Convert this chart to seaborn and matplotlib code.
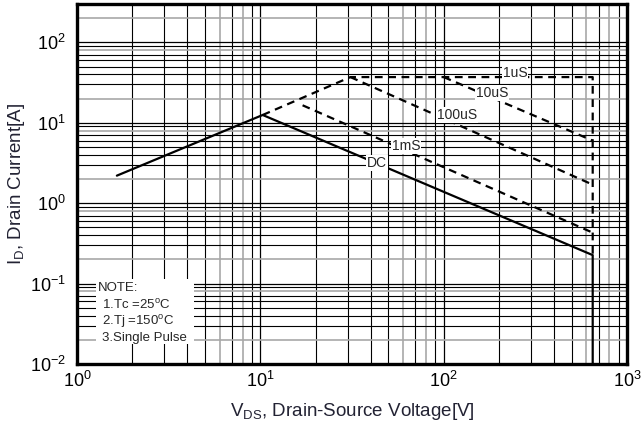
import numpy as np
import pandas as pd
import matplotlib
matplotlib.use('Agg')
import matplotlib.pyplot as plt
import seaborn as sns
from matplotlib.patches import Rectangle
from matplotlib.ticker import LogLocator, NullFormatter

# safe operating area curves
dc_v = [1.65, 10.3, 650, 650]
dc_i = [2.2, 12.5, 0.226, 0.01]

us1_v = [10.3, 31, 650, 650]
us1_i = [12.5, 37, 37, 0.226]

us10_v = [100, 650]
us10_i = [37, 6.0]

us100_v = [31, 650]
us100_i = [37, 1.7]

ms1_v = [17, 650]
ms1_i = [16.5, 0.43]

curve_labels = ['1uS', '10uS', '100uS', '1mS', 'DC']
note_lines = ['NOTE:', '1.Tc =25$^\\mathdefault{o}$C',
              '2.Tj =150$^\\mathdefault{o}$C', '3.Single Pulse']

sns.set_style('white')
plt.rcParams['font.family'] = ['Liberation Sans', 'DejaVu Sans']
plt.rcParams['mathtext.fontset'] = 'custom'
plt.rcParams['mathtext.rm'] = 'Liberation Sans'


def make_df(v, i, name):
    return pd.DataFrame({'vds': v, 'id': i, 'curve': name})


fig = plt.figure(figsize=(6.42, 4.38), dpi=100)
ax = fig.add_axes([77 / 642, 74 / 438, 550 / 642, 360 / 438])
ax.set_xscale('log')
ax.set_yscale('log')
ax.set_xlim(1, 1000)
ax.set_ylim(0.01, 300)

# grid, drawn by hand so some minor lines can be grey like the scan
for dec in [1, 10, 100]:
    ax.axvline(dec, color='black', lw=0.9, zorder=0.5)
    for m in range(2, 10):
        col = '#a8a8a8' if m in (6, 8) else 'black'
        ax.axvline(m * dec, color=col, lw=1.2 if col != 'black' else 0.8, zorder=0.5)
for dec in [0.01, 0.1, 1, 10, 100]:
    ax.axhline(dec, color='black', lw=0.9, zorder=0.5)
    for m in range(2, 10):
        if m * dec > 300:
            break
        col = '#a8a8a8' if m in (2, 8) else 'black'
        ax.axhline(m * dec, color=col, lw=1.2 if col != 'black' else 0.8, zorder=0.5)

# curves
dash = (0, (3.5, 2.5))
sns.lineplot(data=make_df(dc_v, dc_i, 'DC'), x='vds', y='id', ax=ax, sort=False,
             estimator=None, color='black', lw=1.6, zorder=3)
for v, i, name in [(us1_v, us1_i, '1uS'), (us10_v, us10_i, '10uS'),
                   (us100_v, us100_i, '100uS'), (ms1_v, ms1_i, '1mS')]:
    sns.lineplot(data=make_df(v, i, name), x='vds', y='id', ax=ax, sort=False,
                 estimator=None, color='black', lw=1.6, linestyle=dash, zorder=3)

# curve labels (axes fraction, from pixel positions)
label_pos = [(0.797, 0.808), (0.755, 0.753), (0.691, 0.692), (0.598, 0.606), (0.545, 0.558)]
for txt, (fx, fy) in zip(curve_labels, label_pos):
    ax.text(fx, fy, txt, transform=ax.transAxes, ha='center', va='center',
            fontsize=10, zorder=4,
            bbox=dict(facecolor='white', edgecolor='none', pad=0.6))

# note box
ax.add_patch(Rectangle((0.0345, 0.056), 0.178, 0.179, transform=ax.transAxes,
                       facecolor='white', edgecolor='none', zorder=2))
note_x = [0.038, 0.046, 0.046, 0.046]
note_y = [0.212, 0.163, 0.117, 0.071]
for txt, fx, fy in zip(note_lines, note_x, note_y):
    ax.text(fx, fy, txt, transform=ax.transAxes, ha='left', va='center',
            fontsize=9.5, zorder=4)

ax.xaxis.set_major_locator(LogLocator(base=10, numticks=10))
ax.yaxis.set_major_locator(LogLocator(base=10, numticks=10))
ax.xaxis.set_minor_locator(LogLocator(base=10, subs=np.arange(2, 10), numticks=20))
ax.yaxis.set_minor_locator(LogLocator(base=10, subs=np.arange(2, 10), numticks=20))
ax.xaxis.set_minor_formatter(NullFormatter())
ax.yaxis.set_minor_formatter(NullFormatter())
ax.tick_params(which='both', direction='in', colors='black', width=1.5)
ax.tick_params(which='major', length=5, labelsize=13)
ax.tick_params(which='minor', length=3)
ax.tick_params(axis='x', which='major', pad=5)
ax.tick_params(axis='y', which='major', pad=8)
ax.set_xlabel('')
ax.set_ylabel('')

for s in ax.spines.values():
    s.set_linewidth(2.4)
    s.set_color('black')
    s.set_zorder(5)

fig.text(17 / 642, 1 - 184 / 438, 'I$_\\mathdefault{D}$, Drain Current[A]',
         rotation=90, ha='center', va='center', fontsize=13.5, color='#222233')
fig.text(352 / 642, 1 - 412 / 438, 'V$_\\mathdefault{DS}$, Drain-Source Voltage[V]',
         ha='center', va='center', fontsize=13.5, color='#222233')

fig.savefig('out.png', dpi=100, facecolor='white')
